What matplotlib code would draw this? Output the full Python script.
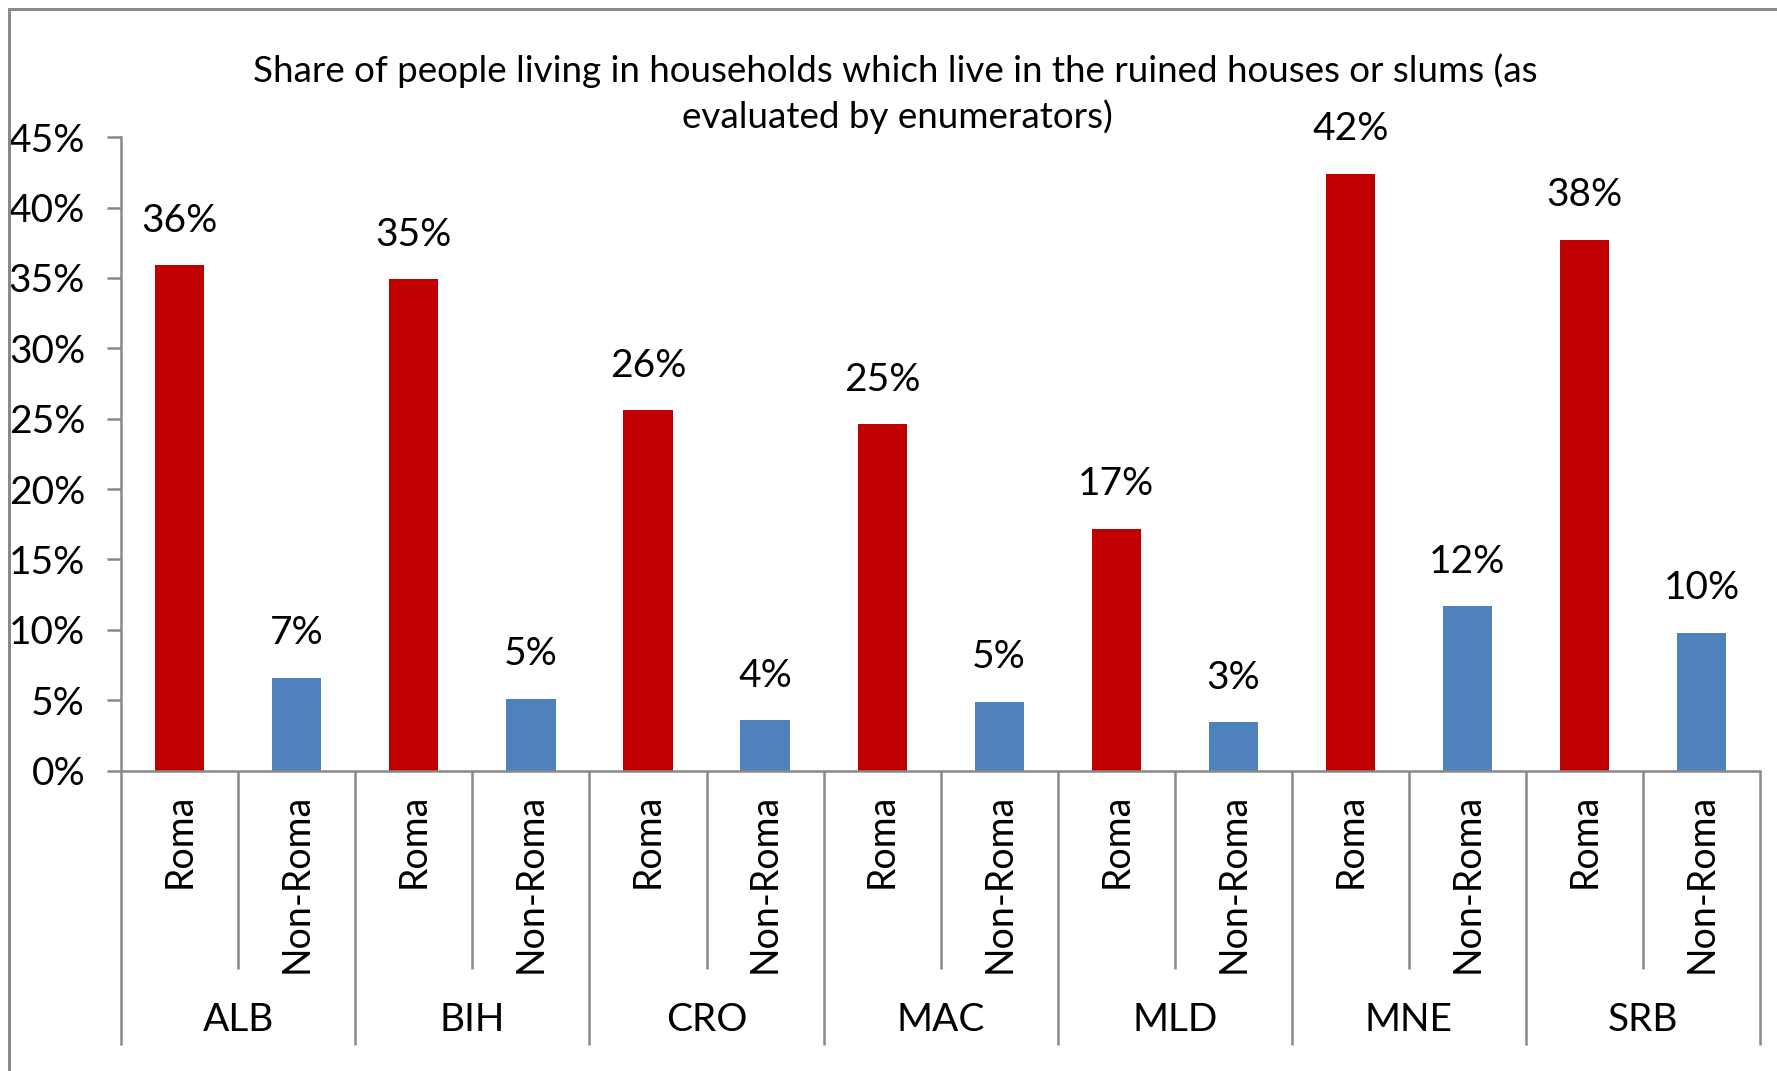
import matplotlib
matplotlib.use("Agg")
import matplotlib.pyplot as plt
from matplotlib.patches import Rectangle
from matplotlib.ticker import FuncFormatter, MultipleLocator

countries = ["ALB", "BIH", "CRO", "MAC", "MLD", "MNE", "SRB"]
groups = ["Roma", "Non-Roma"]
roma = [35.9, 34.9, 25.6, 24.6, 17.2, 42.4, 37.7]
non_roma = [6.6, 5.1, 3.6, 4.9, 3.45, 11.7, 9.8]
title_lines = ["Share of people living in households which live in the ruined houses or slums (as",
               "evaluated by enumerators)"]

RED = "#C00000"
BLUE = "#4F81BD"
GRAY = "#898989"
FONT = "Lato"

plt.rcParams['font.family'] = [FONT, 'DejaVu Sans']

W, H = 1777, 1071
fig = plt.figure(figsize=(W / 100, H / 100), dpi=100)
fig.patch.set_facecolor("white")

# outer chart frame (extends past right / bottom edges)
fig.add_artist(Rectangle((8 / 1568, -0.5), 2.0, 0.5 + (1 - 8 / 945),
                         transform=fig.transFigure, fill=False,
                         edgecolor=GRAY, linewidth=2.2, clip_on=True))

left, right = 107 / 1568, 1553 / 1568
bottom, top = 1 - 680 / 945, 1 - 121 / 945
ax = fig.add_axes([left, bottom, right - left, top - bottom])

n = len(countries)
xs_roma = [2 * i for i in range(n)]
xs_non = [2 * i + 1 for i in range(n)]
bw = 0.42
ax.bar(xs_roma, roma, width=bw, color=RED, zorder=2)
ax.bar(xs_non, non_roma, width=bw, color=BLUE, zorder=2)

for x, v in list(zip(xs_roma, roma)) + list(zip(xs_non, non_roma)):
    ax.annotate(f"{round(v):.0f}%", (x, v), xytext=(0, 32), textcoords="offset points",
                ha="center", va="center", fontsize=28, color="black")

ax.set_xlim(-0.5, 2 * n - 0.5)
ax.set_ylim(0, 45)
ax.yaxis.set_major_locator(MultipleLocator(5))
ax.yaxis.set_major_formatter(FuncFormatter(lambda v, p: f"{v:.0f}%"))
ax.tick_params(axis="y", direction="out", length=10, width=1.8, color=GRAY,
               labelsize=28, pad=16)
ax.set_xticks([])
for s in ["top", "right"]:
    ax.spines[s].set_visible(False)
for s in ["left", "bottom"]:
    ax.spines[s].set_color(GRAY)
    ax.spines[s].set_linewidth(1.8)
ax.spines["bottom"].set_zorder(3)

trans = ax.get_xaxis_transform()
# separators
for k in range(2 * n + 1):
    xb = k - 0.5
    depth = -0.433 if k % 2 == 0 else -0.313
    ax.plot([xb, xb], [0, depth], transform=trans, color=GRAY, lw=1.8,
            clip_on=False, solid_capstyle="butt")

# category labels
for i in range(n):
    for j, g in enumerate(groups):
        ax.text(2 * i + j, -0.036, g, transform=trans, rotation=90,
                ha="center", va="top", fontsize=27)
    ax.text(2 * i + 0.5, -0.394, countries[i], transform=trans,
            ha="center", va="center", fontsize=28)

fig.text(790 / 1568, 1 - 62 / 945, title_lines[0], ha="center", va="center",
         fontsize=26.5)
fig.text(792 / 1568, 1 - 103 / 945, title_lines[1], ha="center", va="center",
         fontsize=26.5)

fig.savefig("out.png", dpi=100, facecolor="white")
